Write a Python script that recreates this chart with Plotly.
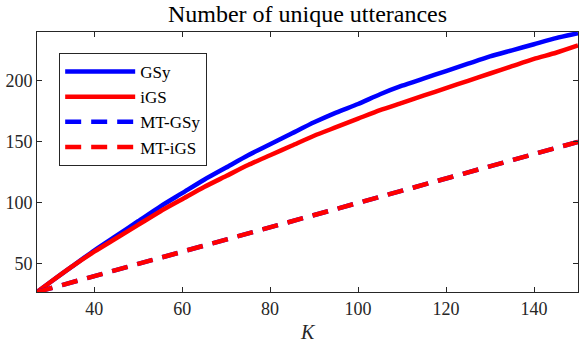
import plotly.graph_objects as go

K = [27, 30, 35, 40, 45, 50, 55, 60, 65, 70, 75, 80, 85, 90, 95, 100,
     105, 110, 115, 120, 125, 130, 135, 140, 145, 150]
gsy = [27, 35, 48, 61, 73, 85, 97, 108, 119, 129, 139, 148, 157, 166, 174, 181,
       189, 196, 202, 208, 214, 220, 225, 230, 235, 239]
igs = [27, 35, 48, 60, 71, 82, 93, 103, 113, 122, 131, 139, 147, 155, 162, 169,
       176, 182, 188, 194, 200, 206, 212, 218, 223, 229]
mt_K = [27, 50, 75, 100, 125, 150]
mt_gsy = [27, 50, 75, 100, 125, 150]
mt_igs = [27, 50, 75, 100, 125, 150]

x_ticks = [40, 60, 80, 100, 120, 140]
y_ticks = [50, 100, 150, 200]

BLUE = "#0000FF"
RED = "#FF0000"
AX = "#262626"
FONT = "Liberation Serif"

fig = go.Figure()
fig.add_trace(go.Scatter(x=K, y=gsy, name="GSy", mode="lines",
                         line=dict(color=BLUE, width=4.5, shape="spline", smoothing=0.6)))
fig.add_trace(go.Scatter(x=K, y=igs, name="iGS", mode="lines",
                         line=dict(color=RED, width=4.5, shape="spline", smoothing=0.6)))
fig.add_trace(go.Scatter(x=mt_K, y=mt_gsy, name="MT-GSy", mode="lines",
                         line=dict(color=BLUE, width=4.5, dash="16px,10px")))
fig.add_trace(go.Scatter(x=mt_K, y=mt_igs, name="MT-iGS", mode="lines",
                         line=dict(color=RED, width=4.5, dash="16px,10px")))

axis_common = dict(showgrid=False, zeroline=False, showline=True, linecolor=AX,
                   linewidth=1, mirror="allticks", ticks="inside", ticklen=5,
                   tickcolor=AX, automargin=False,
                   tickfont=dict(family=FONT, size=18, color=AX))

fig.update_layout(
    width=581, height=343,
    margin=dict(l=37, r=3, t=32, b=51),
    paper_bgcolor="white", plot_bgcolor="white",
    title=dict(text="Number of unique utterances", x=0.5, xref="paper",
               xanchor="center", y=0.959, yref="container", yanchor="middle",
               font=dict(family=FONT, size=24, color="black")),
    xaxis=dict(range=[27, 150], tickvals=x_ticks, **axis_common),
    yaxis=dict(range=[27, 240], tickvals=y_ticks, **axis_common),
    legend=dict(x=0.041, y=0.919, xanchor="left", yanchor="top",
                traceorder="normal", bgcolor="white", bordercolor=AX,
                borderwidth=1, itemwidth=70, tracegroupgap=0,
                font=dict(family=FONT, size=17, color="black")),
    showlegend=True,
    annotations=[dict(text="<i>K</i>", x=0.5, xref="paper", y=-0.152, yref="paper",
                      xanchor="center", yanchor="middle", showarrow=False,
                      font=dict(family=FONT, size=20, color=AX))],
)

fig.write_html("out.html", config={"displayModeBar": False},
               post_script="document.body.style.margin='0';")
